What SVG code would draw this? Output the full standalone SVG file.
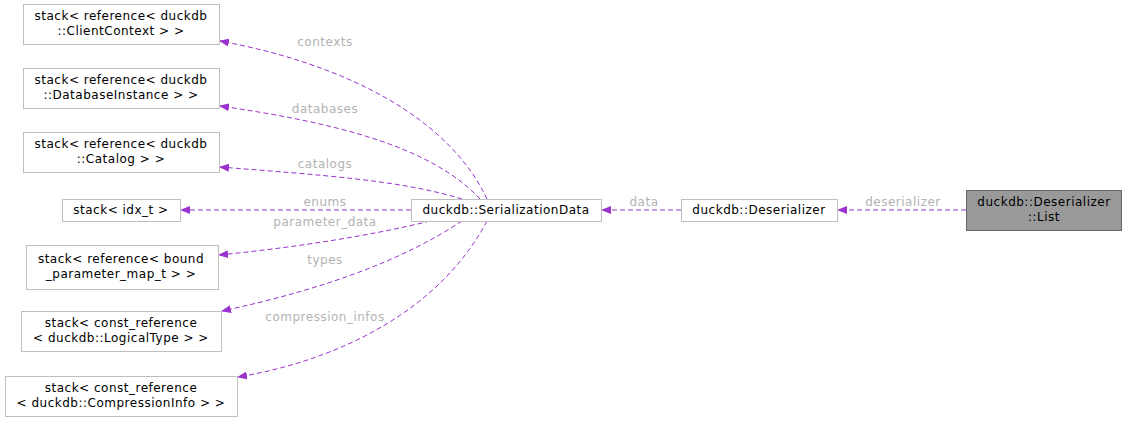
<svg xmlns="http://www.w3.org/2000/svg" width="1127" height="421" viewBox="0 0 1127 421">
<style>
.n{fill:#fff;stroke:#bfbfbf;stroke-width:1}
.t{font-family:"DejaVu Sans",sans-serif;font-size:12px;letter-spacing:0.5px;fill:#000;text-anchor:middle}
.l{font-family:"DejaVu Sans",sans-serif;font-size:12px;letter-spacing:0.5px;fill:#b3b3b3;text-anchor:middle}
.e{fill:none;stroke:#9a32cd;stroke-dasharray:5,3}
</style>
<defs><marker id="a" markerWidth="10" markerHeight="8" refX="9" refY="4" orient="auto" markerUnits="userSpaceOnUse"><path d="M0,0L10,4L0,8z" fill="#9a32cd"/></marker></defs>
<rect width="1127" height="421" fill="#fff"/>
<g id="edges">
<path class="e" marker-end="url(#a)" d="M487,199C450,120 350,65 220,41"/>
<path class="e" marker-end="url(#a)" d="M480,199C430,145 330,122 220,106"/>
<path class="e" marker-end="url(#a)" d="M462,199C400,180 320,175 220,167"/>
<path class="e" marker-end="url(#a)" d="M411,210L181,210"/>
<path class="e" marker-end="url(#a)" d="M430,221C370,236 290,248 219,255"/>
<path class="e" marker-end="url(#a)" d="M462,221C400,262 320,290 222,311"/>
<path class="e" marker-end="url(#a)" d="M487,221C440,310 340,360 238,377"/>
<path class="e" marker-end="url(#a)" d="M681,210L602,210"/>
<path class="e" marker-end="url(#a)" d="M966,210L838,210"/>
<text class="l" x="325" y="46">contexts</text>
<text class="l" x="325" y="113">databases</text>
<text class="l" x="325" y="168">catalogs</text>
<text class="l" x="325" y="206">enums</text>
<text class="l" x="325" y="226">parameter_data</text>
<text class="l" x="325" y="264">types</text>
<text class="l" x="325" y="321">compression_infos</text>
<text class="l" x="644" y="206">data</text>
<text class="l" x="903" y="206">deserializer</text>
</g>
<g id="n1"><rect class="n" x="23.5" y="4.5" width="196" height="40"/><text class="t" x="121" y="20">stack&lt; reference&lt; duckdb</text><text class="t" x="121" y="35">::ClientContext &gt; &gt;</text></g>
<g id="n2"><rect class="n" x="23.5" y="68.5" width="196" height="40"/><text class="t" x="121" y="84">stack&lt; reference&lt; duckdb</text><text class="t" x="121" y="99">::DatabaseInstance &gt; &gt;</text></g>
<g id="n3"><rect class="n" x="23.5" y="132.5" width="196" height="40"/><text class="t" x="121" y="148">stack&lt; reference&lt; duckdb</text><text class="t" x="121" y="163">::Catalog &gt; &gt;</text></g>
<g id="n4"><rect class="n" x="62.5" y="199.5" width="118" height="22"/><text class="t" x="121" y="214">stack&lt; idx_t &gt;</text></g>
<g id="n5"><rect class="n" x="26.5" y="245.5" width="192" height="44"/><text class="t" x="121" y="263">stack&lt; reference&lt; bound</text><text class="t" x="121" y="278">_parameter_map_t &gt; &gt;</text></g>
<g id="n6"><rect class="n" x="21.5" y="311.5" width="200" height="40"/><text class="t" x="121" y="327">stack&lt; const_reference</text><text class="t" x="121" y="342">&lt; duckdb::LogicalType &gt; &gt;</text></g>
<g id="n7"><rect class="n" x="5.5" y="376.5" width="232" height="40"/><text class="t" x="121" y="392">stack&lt; const_reference</text><text class="t" x="121" y="407">&lt; duckdb::CompressionInfo &gt; &gt;</text></g>
<g id="n8"><rect class="n" x="411.5" y="199.5" width="190" height="22"/><text class="t" x="506" y="214">duckdb::SerializationData</text></g>
<g id="n9"><rect class="n" x="681.5" y="199.5" width="156" height="22"/><text class="t" x="759" y="214">duckdb::Deserializer</text></g>
<g id="n10"><rect x="966.5" y="190.5" width="155" height="40" fill="#999" stroke="#666"/><text class="t" x="1044" y="206">duckdb::Deserializer</text><text class="t" x="1044" y="221">::List</text></g>
</svg>
